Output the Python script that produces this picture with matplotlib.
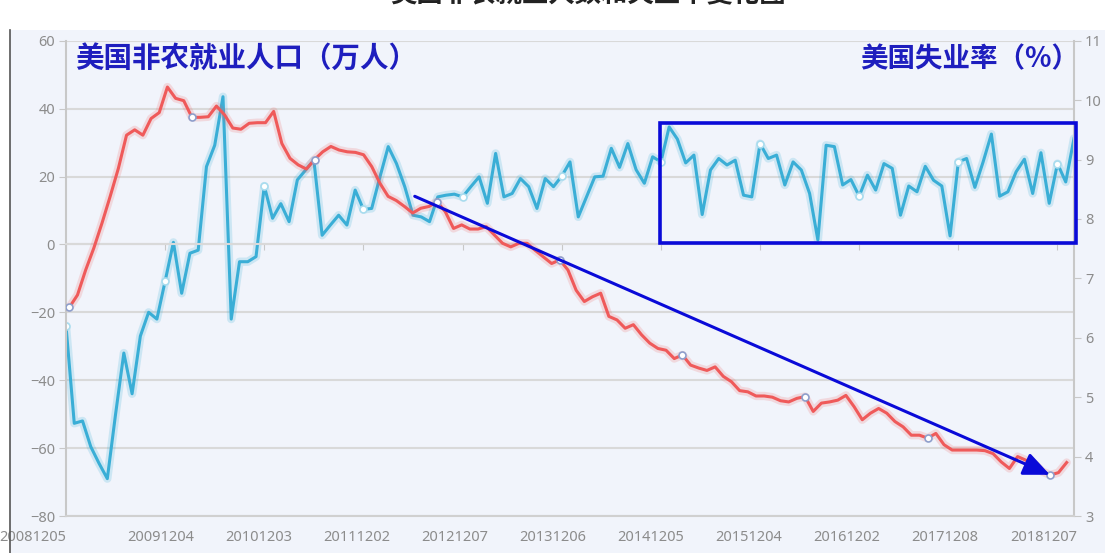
import matplotlib
matplotlib.use('Agg')
import matplotlib.pyplot as plt
from matplotlib.patches import Rectangle, FancyArrowPatch
from matplotlib.transforms import ScaledTranslation
import numpy as np

plt.rcParams['font.family'] = ['Noto Sans', 'Noto Sans CJK SC', 'DejaVu Sans']

# monthly data, 2008-12 .. 2019-02
payrolls = [-24, -52.7, -52, -59.6, -64.5, -69, -50, -32, -44, -27,
            -20, -22, -10.8, 0.6, -14.4, -2.6, -1.7, 22.9, 29.2, 43.5,
            -22, -5.1, -5.1, -3.6, 17.2, 7.7, 12, 6.7, 19, 21.9,
            24.8, 2.7, 5.7, 8.6, 5.7, 16, 10.3, 10.6, 19.9, 28.8,
            23.8, 17, 8.6, 8.1, 6.7, 14, 14.5, 14.8, 14, 17,
            19.9, 12.1, 26.8, 14, 15, 19.4, 17, 10.6, 19.4, 17,
            20.1, 24.3, 8.1, 14, 19.9, 20.1, 28.3, 22.7, 29.7, 22,
            18, 25.8, 24.3, 34.6, 31, 24, 26.3, 8.8, 21.9, 25.3,
            23.4, 24.8, 14.5, 14, 29.7, 25.3, 26.3, 17.5, 24.3, 21.9,
            15, 1.3, 29.2, 28.8, 17.5, 19.1, 14.2, 20.4, 16, 23.8,
            22.4, 8.6, 17.2, 15.5, 23, 18.9, 17.2, 2.5, 24.3, 25.3,
            16.8, 24.3, 32.5, 14.2, 15.5, 21.4, 25.1, 15, 27, 12.1,
            23.8, 18.4, 31.2]

unemployment = [6.51, 6.72, 7.14, 7.51, 7.93, 8.38, 8.85, 9.41, 9.50, 9.41,
                9.69, 9.79, 10.22, 10.03, 9.99, 9.71, 9.71, 9.72, 9.90, 9.75,
                9.53, 9.51, 9.61, 9.62, 9.62, 9.81, 9.27, 9.02, 8.91, 8.84,
                9.00, 9.13, 9.22, 9.16, 9.13, 9.12, 9.08, 8.88, 8.60, 8.38,
                8.31, 8.21, 8.10, 8.18, 8.21, 8.29, 8.12, 7.84, 7.90, 7.83,
                7.83, 7.87, 7.73, 7.59, 7.53, 7.59, 7.59, 7.47, 7.36, 7.25,
                7.31, 7.14, 6.80, 6.61, 6.69, 6.75, 6.36, 6.30, 6.16, 6.22,
                6.05, 5.91, 5.82, 5.79, 5.65, 5.71, 5.54, 5.49, 5.45, 5.51,
                5.35, 5.26, 5.11, 5.09, 5.02, 5.02, 5.00, 4.94, 4.92, 4.98,
                5.01, 4.76, 4.90, 4.92, 4.95, 5.03, 4.84, 4.62, 4.73, 4.81,
                4.73, 4.59, 4.50, 4.36, 4.36, 4.31, 4.39, 4.20, 4.11, 4.11,
                4.11, 4.11, 4.10, 4.05, 3.91, 3.80, 4.00, 3.94, 3.89, 3.75,
                3.69, 3.73, 3.90]

date_labels = ['20081205', '20091204', '20101203', '20111202', '20121207',
               '20131206', '20141205', '20151204', '20161202', '20171208',
               '20181207']

title = '美国非农就业人数和失业率变化图'
left_name = '美国非农就业人口（万人）'
right_name = '美国失业率（%）'

blue = '#3aaed6'
red = '#ef5a5a'
ann = '#0a0ad8'
grey_txt = '#8c8c8c'

W, H = 1105, 553
fig = plt.figure(figsize=(W / 100, H / 100), dpi=100)
fig.patch.set_facecolor('white')
fig.add_artist(Rectangle((10 / W, 0), 1 - 10 / W, (H - 30) / H, transform=fig.transFigure,
                         facecolor='#f1f4fb', edgecolor='none', zorder=-10))
fig.add_artist(plt.Line2D([10 / W, 10 / W], [0, (H - 30) / H], transform=fig.transFigure,
                          color='#555555', lw=1.2))

pos = [66 / W, 37 / H, 1008 / W, 475.3 / H]
n = len(payrolls)
x = np.arange(n)

# payroll axis (left), x axis sits on zero
ax = fig.add_axes(pos)
ax.patch.set_alpha(0)
ax.set_xlim(0, n - 1)
ax.set_ylim(-80, 60)
ax.set_yticks(np.arange(-80, 61, 20))
ax.yaxis.grid(True, color='#d9d9d9', lw=1.5)
ax.set_axisbelow(True)
for s in ['top', 'right']:
    ax.spines[s].set_visible(False)
ax.spines['left'].set_color('#c8c8c8')
ax.spines['left'].set_linewidth(1.5)
ax.spines['bottom'].set_position(('data', 0))
ax.spines['bottom'].set_color('#d9d9d9')
ax.spines['bottom'].set_linewidth(1.5)
ax.set_xticks(np.arange(0, n, 12))
ax.tick_params(axis='x', length=4, color='#c8c8c8', labelbottom=False)
ax.tick_params(axis='y', length=5, color='#c8c8c8', labelcolor=grey_txt, labelsize=10.5, pad=3)

ax.plot(x, payrolls, color=blue, lw=6, alpha=0.2, solid_capstyle='round')
ax.plot(x, payrolls, color=blue, lw=2.2, solid_joinstyle='round')
mk = np.arange(0, n, 12)
ax.plot(mk, np.array(payrolls)[mk], 'o', ms=5, mfc='white', mec='#a9dcee', mew=1.2)

# unemployment axis (right) with its own bottom date axis
axr = fig.add_axes(pos, frameon=True)
axr.patch.set_alpha(0)
axr.set_xlim(-0.404, 122.9)
axr.set_ylim(3, 11)
axr.yaxis.tick_right()
axr.set_yticks(np.arange(3, 12, 1))
for s in ['top', 'left']:
    axr.spines[s].set_visible(False)
axr.spines['right'].set_color('#c8c8c8')
axr.spines['right'].set_linewidth(1.5)
axr.spines['bottom'].set_color('#d0d0d0')
axr.spines['bottom'].set_linewidth(1.5)
axr.set_xticks(np.arange(0, n, 12))
axr.set_xticklabels(date_labels)
axr.tick_params(axis='x', length=0, labelcolor=grey_txt, labelsize=10.5, pad=10)
axr.tick_params(axis='y', length=5, color='#c8c8c8', labelcolor=grey_txt, labelsize=10.5, pad=3)
# date labels sit a little left of their ticks, the first one pushed to the edge
for k, lab in enumerate(axr.get_xticklabels()):
    dx = -37 if k == 0 else -7
    lab.set_transform(lab.get_transform() + ScaledTranslation(dx / 100, 0, fig.dpi_scale_trans))

axr.plot(x, unemployment, color=red, lw=6, alpha=0.18, solid_capstyle='round')
axr.plot(x, unemployment, color=red, lw=2.2, solid_joinstyle='round')
mr = np.arange(0, n, 15)
axr.plot(mr, np.array(unemployment)[mr], 'o', ms=5, mfc='white', mec='#8e9fcc', mew=1.2)

# annotations drawn in payroll data coordinates
axr.add_patch(Rectangle((71.9, 0.4), 50.3, 35.3, transform=ax.transData, fill=False,
                        edgecolor=ann, lw=2.6, clip_on=False, zorder=5))
axr.add_patch(FancyArrowPatch((41.9, 14.5), (119.4, -68.2), transform=ax.transData,
                              arrowstyle='-|>,head_length=16,head_width=7', color=ann,
                              lw=2.2, mutation_scale=1, clip_on=False, zorder=6))

fig.text(75 / W, (H - 59) / H, left_name, color='#1e1ebe', fontsize=20.5, fontweight='bold',
         family=['Noto Sans CJK SC'], ha='left', va='center')
fig.text(1079 / W, (H - 59) / H, right_name, color='#1e1ebe', fontsize=19.8, fontweight='bold',
         family=['Noto Sans CJK SC'], ha='right', va='center')
fig.text(588 / W, (H + 5) / H, title, color='#222222', fontsize=19, fontweight='bold',
         family=['Noto Sans CJK SC'], ha='center', va='center')

fig.savefig('out.png', dpi=100)
